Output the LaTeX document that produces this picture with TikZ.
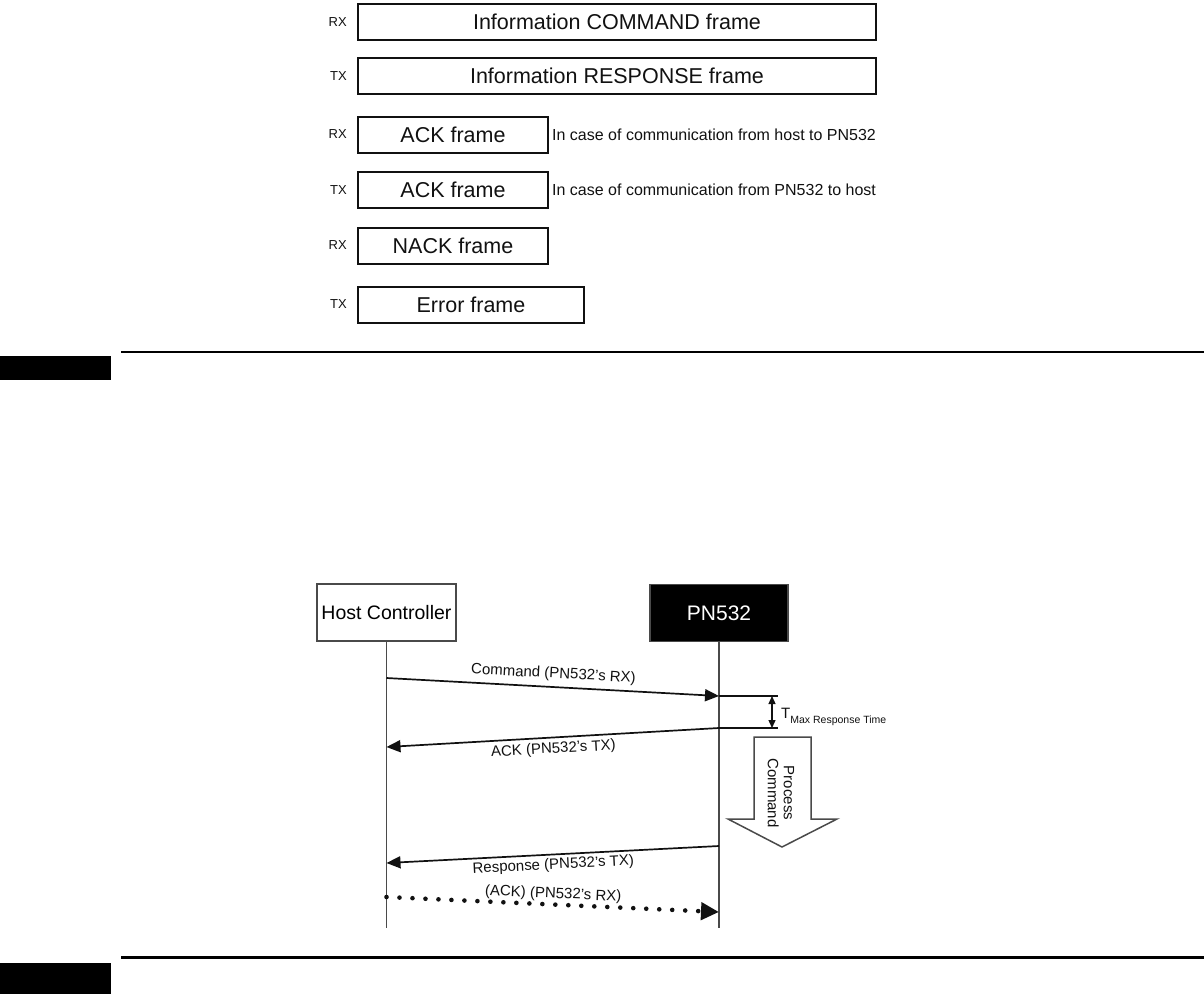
\documentclass[tikz,border=0pt]{standalone}
\usepackage{fontspec}
\setmainfont{Liberation Sans}
\setsansfont{Liberation Sans}
\usetikzlibrary{positioning, calc, arrows.meta}
\definecolor{Ink}{HTML}{111111}
\definecolor{Frame}{HTML}{4A4A4A}
\tikzset{
    framebox/.style={rectangle, draw=Ink, line width=2pt, minimum height=36pt, inner sep=0pt, anchor=west, text=Ink, font=\fontsize{21.5}{25}\selectfont},
    dirlabel/.style={anchor=east, inner sep=0pt, text=Ink, font=\fontsize{13}{15}\selectfont},
    notetext/.style={anchor=west, inner sep=0pt, text=Ink, font=\fontsize{16}{19}\selectfont},
    actor/.style={rectangle, draw=Frame, line width=1.5pt, minimum height=57pt, inner sep=0pt, font=\fontsize{19.5}{22}\selectfont},
    lifeline/.style={draw=Frame, line width=1.5pt},
    msg/.style={-{Triangle[length=14pt, width=12pt]}, line width=1.7pt, draw=Ink},
    msgback/.style={{Triangle[length=14pt, width=12pt]}-, line width=1.7pt, draw=Ink},
    msglabel/.style={sloped, inner sep=3pt, text=Ink, font=\fontsize{15}{18}\selectfont},
    dotmsg/.style={-{Triangle[length=18pt, width=17pt]}, line width=4.6pt, line cap=round, dash pattern=on 0pt off 13pt, draw=Ink},
    tick/.style={draw=Ink, line width=1.1pt},
    blockarrow/.style={draw=Frame, line width=1.5pt, fill=white},
}

\begin{document}
\begin{tikzpicture}[x=1pt, y=-1pt]
    \useasboundingbox (0,0) rectangle (1204,994);

    % frame types
    \node[framebox, minimum width=518pt] (cmdf) at (357,22) {Information COMMAND frame};
    \node[framebox, minimum width=518pt] (rspf) at (357,76) {Information RESPONSE frame};
    \node[framebox, minimum width=190pt] (ackrx) at (357,134.5) {ACK frame};
    \node[framebox, minimum width=190pt] (acktx) at (357,190) {ACK frame};
    \node[framebox, minimum width=190pt] (nackf) at (357,245.5) {NACK frame};
    \node[framebox, minimum width=226pt] (errf) at (357,304.5) {Error frame};

    \node[dirlabel] (d1) at (347,22) {RX};
    \node[dirlabel] (d2) at (347,76) {TX};
    \node[dirlabel] (d3) at (347,134.5) {RX};
    \node[dirlabel] (d4) at (347,190) {TX};
    \node[dirlabel] (d5) at (347,245.5) {RX};
    \node[dirlabel] (d6) at (347,304.5) {TX};

    \node[notetext] (n1) at (552,134.5) {In case of communication from host to PN532};
    \node[notetext] (n2) at (552,190) {In case of communication from PN532 to host};

    % separators
    \draw[line width=2.2pt] (121,352) -- (1204,352);
    \fill[black] (0,356) rectangle (111,380);
    \draw[line width=2.2pt] (121,957.5) -- (1204,957.5);
    \fill[black] (0,963) rectangle (111,994);

    % sequence
    \node[actor, minimum width=139pt] (host) at (386.5,612.5) {Host Controller};
    \node[actor, minimum width=138pt, fill=black, text=white, font=\fontsize{21}{24}\selectfont] (pn) at (719,613) {PN532};
    \coordinate (hostEnd) at (386.5,928);
    \coordinate (pnEnd) at (719,928);
    \draw[lifeline] (host.south) -- (hostEnd);
    \draw[lifeline] (pn.south) -- (pnEnd);

    \coordinate (cmdH) at (386.5,678);
    \coordinate (cmdP) at (719,696);
    \coordinate (ackP) at (719,728);
    \coordinate (ackH) at (386.5,747);
    \coordinate (rspP) at (719,846);
    \coordinate (rspH) at (386.5,863);
    \coordinate (ak2H) at (386.5,897);
    \coordinate (ak2P) at (719,912);

    \draw[msg] (cmdH) -- node[msglabel, above, inner sep=5pt] {Command (PN532's RX)} (cmdP);
    \draw[msgback] (ackH) -- node[msglabel, below, inner sep=4pt] {ACK (PN532's TX)} (ackP);
    \draw[msgback] (rspH) -- node[msglabel, below, inner sep=3pt] {Response (PN532's TX)} (rspP);
    \draw[dotmsg] (ak2H) -- node[msglabel, above, inner sep=1pt] {(ACK) (PN532's RX)} (ak2P);

    % response time
    \draw[tick] (cmdP) -- ++(59,0) coordinate (tTop);
    \draw[tick] (ackP) -- ++(59,0) coordinate (tBot);
    \draw[{Triangle[length=8pt, width=7pt]}-{Triangle[length=8pt, width=7pt]}, line width=1.3pt, draw=Ink]
        ($(tTop)+(-6,0)$) -- ($(tBot)+(-6,0)$);
    \node[anchor=base west, inner sep=0pt, text=Ink] (tmax) at (781,718)
        {\fontsize{15}{18}\selectfont T\raisebox{-5pt}{\fontsize{10.5}{12}\selectfont Max Response Time}};

    % processing
    \draw[blockarrow] (754,737) -- (811,737) -- (811,819) -- (837,819) -- (782,847) -- (728,819) -- (754,819) -- cycle;
    \node[rotate=-90, align=center, inner sep=0pt, text=Ink, font=\fontsize{15}{16}\selectfont] (proc) at (781,793) {Process\\Command};
\end{tikzpicture}
\end{document}
